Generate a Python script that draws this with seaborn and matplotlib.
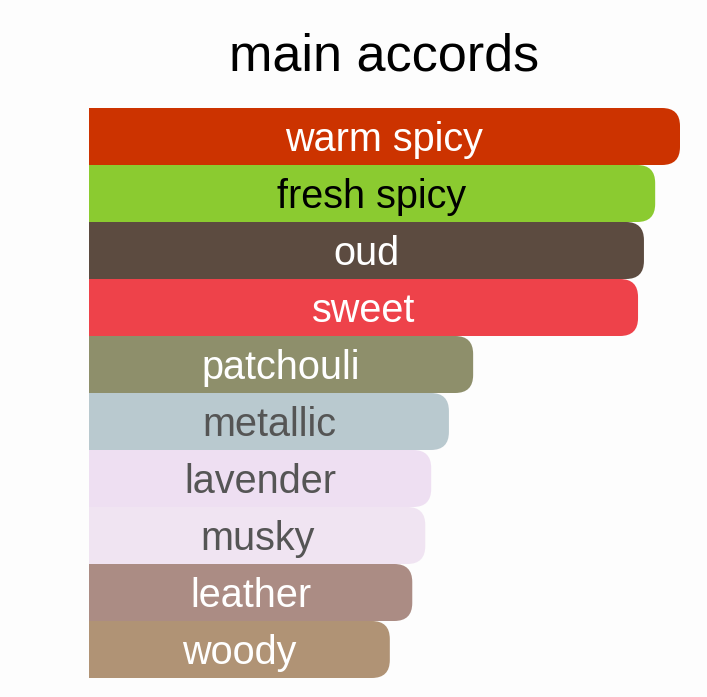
import matplotlib
matplotlib.use("Agg")
import matplotlib.pyplot as plt
from matplotlib.patches import FancyBboxPatch
import seaborn as sns
import pandas as pd

accords = ["warm spicy", "fresh spicy", "oud", "sweet", "patchouli",
           "metallic", "lavender", "musky", "leather", "woody"]
strength = [100, 95.8, 93.9, 92.9, 65.0, 60.9, 57.9, 56.9, 54.7, 50.9]
bar_colors = ["#cc3300", "#8bcb30", "#5c4b40", "#ee424a", "#8e8f6b",
              "#b9c9cf", "#eedff2", "#f0e4f2", "#ab8c84", "#b09375"]
text_colors = ["white", "black", "white", "white", "white",
               "#555555", "#555555", "#555555", "white", "white"]

df = pd.DataFrame({"accord": accords, "strength": strength})

sns.set_theme(style="white")
plt.rcParams["font.family"] = ["Liberation Sans", "DejaVu Sans"]

fig = plt.figure(figsize=(7.07, 6.97), dpi=100, facecolor="#fdfdfd")
ax = fig.add_axes([89 / 707, 1 - 678 / 697, (680 - 89) / 707, (678 - 108) / 697])
ax.set_facecolor("#fdfdfd")

sns.barplot(data=df, x="strength", y="accord", hue="accord",
            palette=bar_colors, legend=False, width=1.0, orient="h",
            linewidth=0, ax=ax)

ax.set_xlim(0, 100)
ax.set_ylim(len(accords) - 0.5, -0.5)

# convert bars to right-rounded shapes
px_per_x = (680 - 89) / 100
px_per_y = (678 - 108) / len(accords)
radius_px = 18
patches = list(ax.patches)
for i, p in enumerate(patches):
    x0, y0 = p.get_x(), p.get_y()
    w, h = p.get_width(), p.get_height()
    p.remove()
    extra = 10
    fb = FancyBboxPatch((x0 - extra, y0), w + extra, h,
                        boxstyle=f"round,pad=0,rounding_size={radius_px / px_per_x}",
                        mutation_aspect=px_per_x / px_per_y,
                        facecolor=bar_colors[i], edgecolor="none", linewidth=0)
    ax.add_patch(fb)
    ax.text(w / 2, y0 + h / 2 + 3.5 / px_per_y, accords[i], ha="center",
            va="center", fontsize=28.5, color=text_colors[i])

ax.axis("off")
fig.text(384.5 / 707, 1 - 57 / 697, "main accords", ha="center", va="center",
         fontsize=37.5, color="black")

fig.savefig("out.png", dpi=100, facecolor=fig.get_facecolor())
